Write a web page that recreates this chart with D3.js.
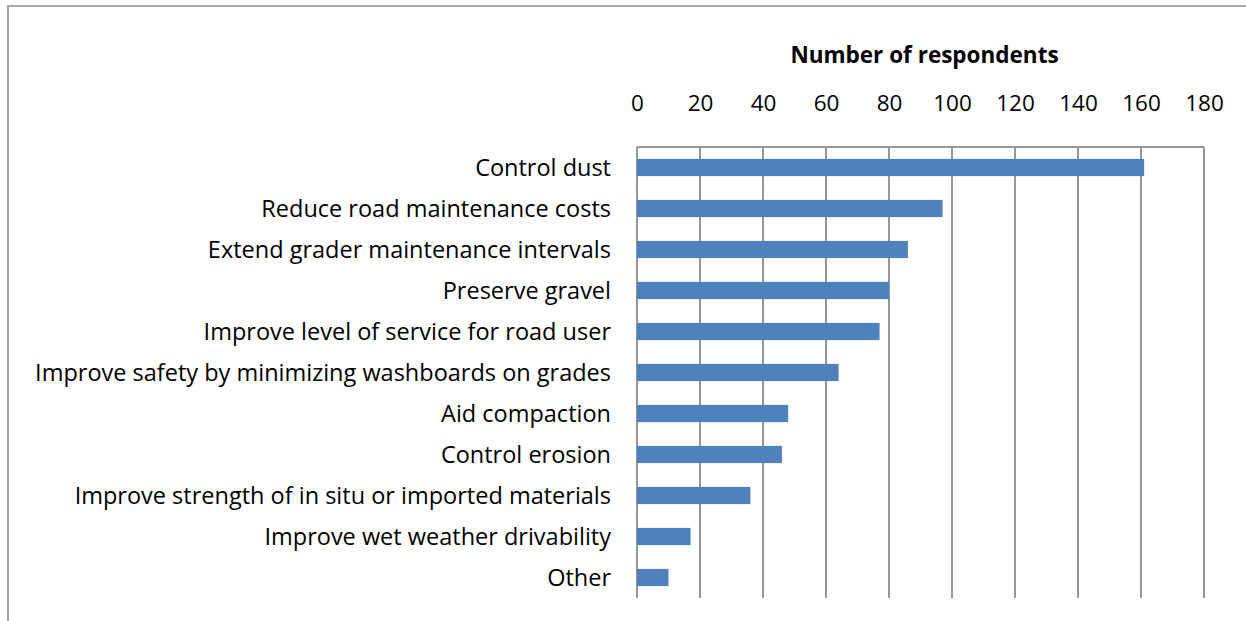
<!DOCTYPE html>
<html>
<head>
<meta charset="utf-8">
<script src="https://cdn.jsdelivr.net/npm/d3@7"></script>
<style>
  body { margin: 0; background: #fff; }
  text { font-family: 'Open Sans', sans-serif; fill: #000; }
</style>
</head>
<body>
<svg width="1246" height="621"></svg>
<script>
const reasons = [
    "Control dust",
    "Reduce road maintenance costs",
    "Extend grader maintenance intervals",
    "Preserve gravel",
    "Improve level of service for road user",
    "Improve safety by minimizing washboards on grades",
    "Aid compaction",
    "Control erosion",
    "Improve strength of in situ or imported materials",
    "Improve wet weather drivability",
    "Other"
];
const respondents = [161, 97, 86, 80, 77, 64, 48, 46, 36, 17, 10];
const xTicks = [0, 20, 40, 60, 80, 100, 120, 140, 160, 180];
const axisTitle = "Number of respondents";

const data = reasons.map((r, i) => ({ name: r, value: respondents[i] }));

const svg = d3.select('svg');

// chart frame (runs off the right and bottom of the picture)
svg.append('rect')
    .attr('x', 8).attr('y', 6)
    .attr('width', 1260).attr('height', 640)
    .attr('fill', 'none')
    .attr('stroke', '#a6a6a6')
    .attr('stroke-width', 2);

const plotLeft = 637, plotRight = 1204, plotTop = 147, plotBottom = 598;

const x = d3.scaleLinear().domain([0, 180]).range([plotLeft, plotRight]);
const y = d3.scaleBand().domain(reasons).range([plotTop, plotBottom]).paddingInner(0.58).paddingOuter(0.29);

// grid lines
svg.append('g')
    .selectAll('line')
    .data(xTicks)
    .enter().append('line')
    .attr('x1', d => x(d)).attr('x2', d => x(d))
    .attr('y1', plotTop).attr('y2', plotBottom)
    .attr('stroke', '#969696')
    .attr('stroke-width', 2);

svg.append('line')
    .attr('x1', plotLeft).attr('x2', plotRight)
    .attr('y1', plotTop).attr('y2', plotTop)
    .attr('stroke', '#969696')
    .attr('stroke-width', 2);

// bars
svg.append('g')
    .selectAll('rect')
    .data(data)
    .enter().append('rect')
    .attr('x', x(0))
    .attr('y', d => y(d.name))
    .attr('width', d => x(d.value) - x(0))
    .attr('height', y.bandwidth())
    .attr('fill', '#4f81bd');

// top axis labels
const axis = svg.append('g')
    .attr('transform', `translate(0,${plotTop - 36})`)
    .call(d3.axisTop(x).tickValues(xTicks).tickSize(0).tickPadding(0));
axis.select('.domain').remove();
axis.selectAll('text')
    .style('font-family', "'Open Sans', sans-serif")
    .style('font-size', '22.5px')
    .attr('fill', '#000');

svg.append('text')
    .attr('x', (plotLeft + plotRight) / 2 + 4)
    .attr('y', 63)
    .attr('text-anchor', 'middle')
    .style('font-size', '22.5px')
    .style('font-weight', 'bold')
    .text(axisTitle);

// category labels
svg.append('g')
    .selectAll('text')
    .data(data)
    .enter().append('text')
    .attr('x', 611)
    .attr('y', d => y(d.name) + y.bandwidth() / 2)
    .attr('dy', '0.35em')
    .attr('text-anchor', 'end')
    .style('font-size', '23.5px')
    .text(d => d.name);
</script>
</body>
</html>
